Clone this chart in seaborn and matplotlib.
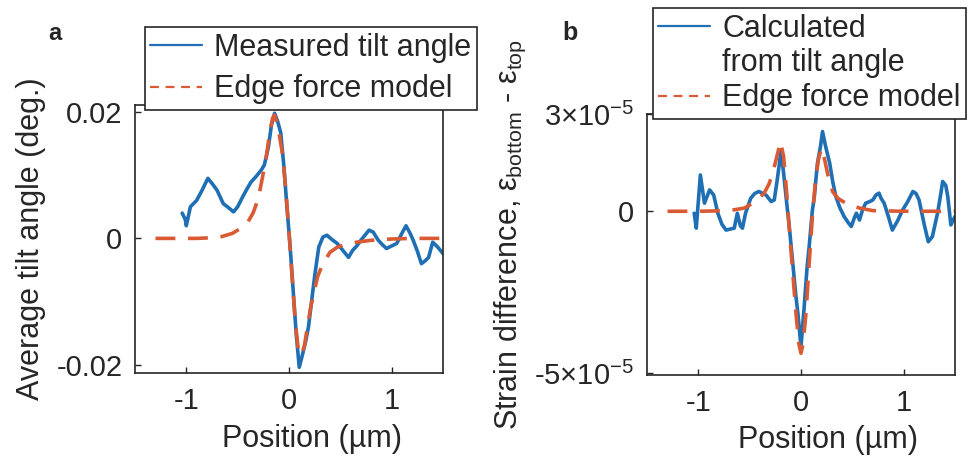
import numpy as np
import matplotlib
matplotlib.use("Agg")
import matplotlib.pyplot as plt
import seaborn as sns
from matplotlib.lines import Line2D

# ---- panel a: average tilt angle (deg.) vs position (um) ----
tilt_x = [-1.04, -1.01, -1.00, -0.96, -0.90, -0.85, -0.79, -0.74, -0.70, -0.64,
          -0.60, -0.54, -0.50, -0.45, -0.41, -0.37, -0.32, -0.27, -0.24, -0.20,
          -0.17, -0.14, -0.11, -0.08, -0.05, -0.02, 0.01, 0.04, 0.07, 0.10,
          0.13, 0.16, 0.19, 0.22, 0.25, 0.29, 0.33, 0.37, 0.42, 0.47,
          0.53, 0.58, 0.62, 0.66, 0.70, 0.74, 0.78, 0.82, 0.87, 0.91,
          0.95, 1.00, 1.05, 1.10, 1.14, 1.18, 1.21, 1.25, 1.29, 1.33,
          1.36, 1.40, 1.45, 1.50]
tilt_measured = [0.0040, 0.0030, 0.0020, 0.0050, 0.0060, 0.0075, 0.0095, 0.0085, 0.0076, 0.0055,
                 0.0050, 0.0042, 0.0050, 0.0066, 0.0078, 0.0089, 0.0098, 0.0108, 0.0116, 0.0145,
                 0.0180, 0.0198, 0.0185, 0.0167, 0.0115, 0.0050, -0.0010, -0.0080, -0.0150, -0.0204,
                 -0.0185, -0.0165, -0.0140, -0.0100, -0.0060, -0.0014, 0.0002, 0.0005, -0.0002, -0.0008,
                 -0.0020, -0.0030, -0.0019, -0.0012, -0.0003, 0.0005, 0.0013, 0.0010, -0.0003, -0.0010,
                 -0.0016, -0.0012, -0.0008, 0.0008, 0.0020, 0.0008, -0.0003, -0.0020, -0.0040, -0.0035,
                 -0.0030, -0.0006, -0.0014, -0.0024]

tilt_model_x = [-1.30, -1.10, -0.90, -0.75, -0.65, -0.55, -0.47, -0.40, -0.35, -0.30,
                -0.26, -0.22, -0.19, -0.16, -0.14, -0.12, -0.09, -0.06, -0.03, 0.00,
                0.03, 0.06, 0.09, 0.12, 0.15, 0.18, 0.21, 0.24, 0.28, 0.33,
                0.40, 0.47, 0.56, 0.66, 0.80, 1.00, 1.20, 1.50]
tilt_model = [0.0, 0.0, 0.0, 0.0001, 0.0003, 0.0008, 0.0016, 0.0026, 0.0040, 0.0062,
              0.0095, 0.0130, 0.0165, 0.0190, 0.0195, 0.0185, 0.0160, 0.0130, 0.0075, 0.0010,
              -0.0060, -0.0130, -0.0175, -0.0185, -0.0170, -0.0140, -0.0110, -0.0088, -0.0060, -0.0040,
              -0.0022, -0.0014, -0.0009, -0.0006, -0.0003, -0.0001, 0.0, 0.0]

# ---- panel b: strain difference (units of 1e-5) vs position (um) ----
strain_x = [-1.04, -1.02, -0.98, -0.94, -0.89, -0.85, -0.81, -0.77, -0.73, -0.69,
            -0.65, -0.62, -0.59, -0.57, -0.54, -0.49, -0.45, -0.41, -0.37, -0.34,
            -0.29, -0.26, -0.23, -0.21, -0.195, -0.17, -0.146, -0.11, -0.08, -0.05,
            -0.03, 0.00, 0.03, 0.06, 0.08, 0.11, 0.13, 0.16, 0.19, 0.21,
            0.24, 0.28, 0.31, 0.34, 0.38, 0.42, 0.46, 0.49, 0.52, 0.54,
            0.57, 0.60, 0.63, 0.67, 0.70, 0.73, 0.76, 0.78, 0.81, 0.85,
            0.89, 0.94, 0.99, 1.04, 1.09, 1.12, 1.15, 1.20, 1.24, 1.28,
            1.33, 1.36, 1.38, 1.41, 1.43, 1.46, 1.50]
strain_calc = [-0.06, -0.52, 1.12, 0.25, 0.66, 0.50, -0.06, -0.40, -0.58, -0.55,
               -0.52, -0.06, -0.45, -0.52, -0.06, 0.40, 0.55, 0.61, 0.55, 0.50,
               0.30, 0.35, 1.00, 1.48, 1.89, 1.20, 0.46, -0.60, -1.60, -2.60,
               -3.15, -4.18, -3.00, -1.70, -1.08, 0.00, 0.45, 1.48, 2.00, 2.46,
               2.00, 1.48, 0.90, 0.45, 0.10, -0.16, -0.35, -0.47, -0.20, -0.06,
               -0.27, 0.05, 0.25, 0.30, 0.35, 0.50, 0.56, 0.40, 0.25, -0.15,
               -0.58, -0.30, 0.04, 0.30, 0.61, 0.55, 0.35, -0.40, -0.94, -0.78,
               -0.06, 0.50, 0.92, 0.80, 0.45, -0.42, -0.16]

strain_model_x = [-1.30, -1.00, -0.70, -0.55, -0.47, -0.41, -0.36, -0.31, -0.27, -0.23,
                  -0.20, -0.17, -0.14, -0.11, -0.08, -0.05, -0.02, 0.00, 0.02, 0.05,
                  0.08, 0.11, 0.14, 0.17, 0.20, 0.23, 0.27, 0.31, 0.36, 0.41,
                  0.47, 0.57, 0.70, 1.00, 1.30, 1.50]
strain_model = [0.0, 0.0, 0.02, 0.10, 0.25, 0.40, 0.55, 0.85, 1.25, 1.75,
                2.15, 1.70, 0.60, -0.70, -1.90, -3.10, -4.10, -4.38, -4.10, -3.10,
                -1.60, -0.20, 0.90, 1.60, 1.95, 1.60, 1.00, 0.60, 0.40, 0.30,
                0.20, 0.10, 0.02, 0.0, 0.0, 0.0]
STRAIN_UNIT = 1e-5

x_ticks = [-1, 0, 1]
x_ticklabels = ["-1", "0", "1"]
a_yticks = [-0.02, 0, 0.02]
a_yticklabels = ["-0.02", "0", "0.02"]
b_yticks = [-5e-5, 0, 3e-5]
b_yticklabels = ["-5×10$^{-5}$", "0", "3×10$^{-5}$"]

BLUE = "#1f6fb4"
RED = "#d95a33"
INK = "#262626"
FS = 21

sns.set_theme(style="ticks")
plt.rcParams["font.family"] = ["Liberation Sans", "DejaVu Sans"]
plt.rcParams["mathtext.fontset"] = "custom"
plt.rcParams["mathtext.rm"] = "Liberation Sans"
plt.rcParams["mathtext.it"] = "Liberation Sans:italic"
plt.rcParams["mathtext.default"] = "regular"
plt.rcParams["axes.unicode_minus"] = False

fig = plt.figure(figsize=(9.71, 4.62), dpi=100)
ax_a = fig.add_axes([0.1390, 0.1926, 0.3172, 0.5801])
ax_b = fig.add_axes([0.6663, 0.1883, 0.3172, 0.5649])

LW = 2.6
DASH = (5.5, 3.5)

sns.lineplot(x=tilt_x, y=tilt_measured, ax=ax_a, color=BLUE, lw=LW,
             estimator=None, sort=False)
sns.lineplot(x=tilt_model_x, y=tilt_model, ax=ax_a, color=RED, lw=LW,
             estimator=None, sort=False).lines[-1].set_dashes(DASH)

sns.lineplot(x=strain_x, y=np.array(strain_calc) * STRAIN_UNIT, ax=ax_b,
             color=BLUE, lw=LW, estimator=None, sort=False)
sns.lineplot(x=strain_model_x, y=np.array(strain_model) * STRAIN_UNIT, ax=ax_b,
             color=RED, lw=LW, estimator=None, sort=False).lines[-1].set_dashes(DASH)

for ax in (ax_a, ax_b):
    ax.set_xlim(-1.5, 1.5)
    ax.set_xticks(x_ticks, x_ticklabels)
    ax.tick_params(direction="in", length=4, width=1.0, color=INK,
                   labelsize=FS, labelcolor=INK, top=False, right=False)
    ax.tick_params(axis="x", pad=10)
    ax.tick_params(axis="y", pad=9)
    for sp in ax.spines.values():
        sp.set_visible(True)
        sp.set_color(INK)
        sp.set_linewidth(1.2)
    ax.set_xlabel("Position (µm)", fontsize=FS + 1, color=INK)

ax_a.set_ylim(-0.0213, 0.0211)
ax_a.set_yticks(a_yticks, a_yticklabels)
ax_a.set_ylabel("Average tilt angle (deg.)", fontsize=FS + 1, color=INK)
ax_a.yaxis.set_label_coords(-0.29, 0.5)
ax_a.xaxis.set_label_coords(0.575, -0.19)

ax_b.set_ylim(-5.05e-5, 3.0e-5)
ax_b.set_yticks(b_yticks, b_yticklabels)
ax_b.set_ylabel("Strain difference, ε$_{bottom}$ - ε$_{top}$", fontsize=FS + 1, color=INK)
ax_b.yaxis.set_label_coords(-0.385, 0.54)
ax_b.xaxis.set_label_coords(0.588, -0.19)

leg_kw = dict(loc="upper left", borderaxespad=0, frameon=True, fancybox=False,
              edgecolor=INK, framealpha=1, handlelength=1.7, handletextpad=0.4,
              fontsize=FS + 1)

h_blue = Line2D([], [], color=BLUE, lw=1.6)
h_red = Line2D([], [], color=RED, lw=1.6, dashes=(4, 3))
h_none = Line2D([], [], color="none")

leg_a = ax_a.legend([h_blue, h_red], ["Measured tilt angle", "Edge force model"],
                    bbox_to_anchor=(0.032, 1.29), labelspacing=0.38,
                    borderpad=0.18, **leg_kw)
leg_a.get_frame().set_linewidth(1.2)
for t in leg_a.get_texts():
    t.set_color(INK)

leg_b = ax_b.legend([h_blue, h_none, h_red],
                    ["Calculated", "from tilt angle", "Edge force model"],
                    bbox_to_anchor=(0.019, 1.406), labelspacing=0.16,
                    borderpad=0.18, **leg_kw)
leg_b.get_frame().set_linewidth(1.2)
for t in leg_b.get_texts():
    t.set_color(INK)

fig.text(55 / 971, 1 - 34 / 462, "a", fontsize=17, fontweight="bold",
         color=INK, ha="center", va="center")
fig.text(570 / 971, 1 - 33 / 462, "b", fontsize=18, fontweight="bold",
         color=INK, ha="center", va="center")

fig.savefig("out.png", dpi=100, facecolor="white")
